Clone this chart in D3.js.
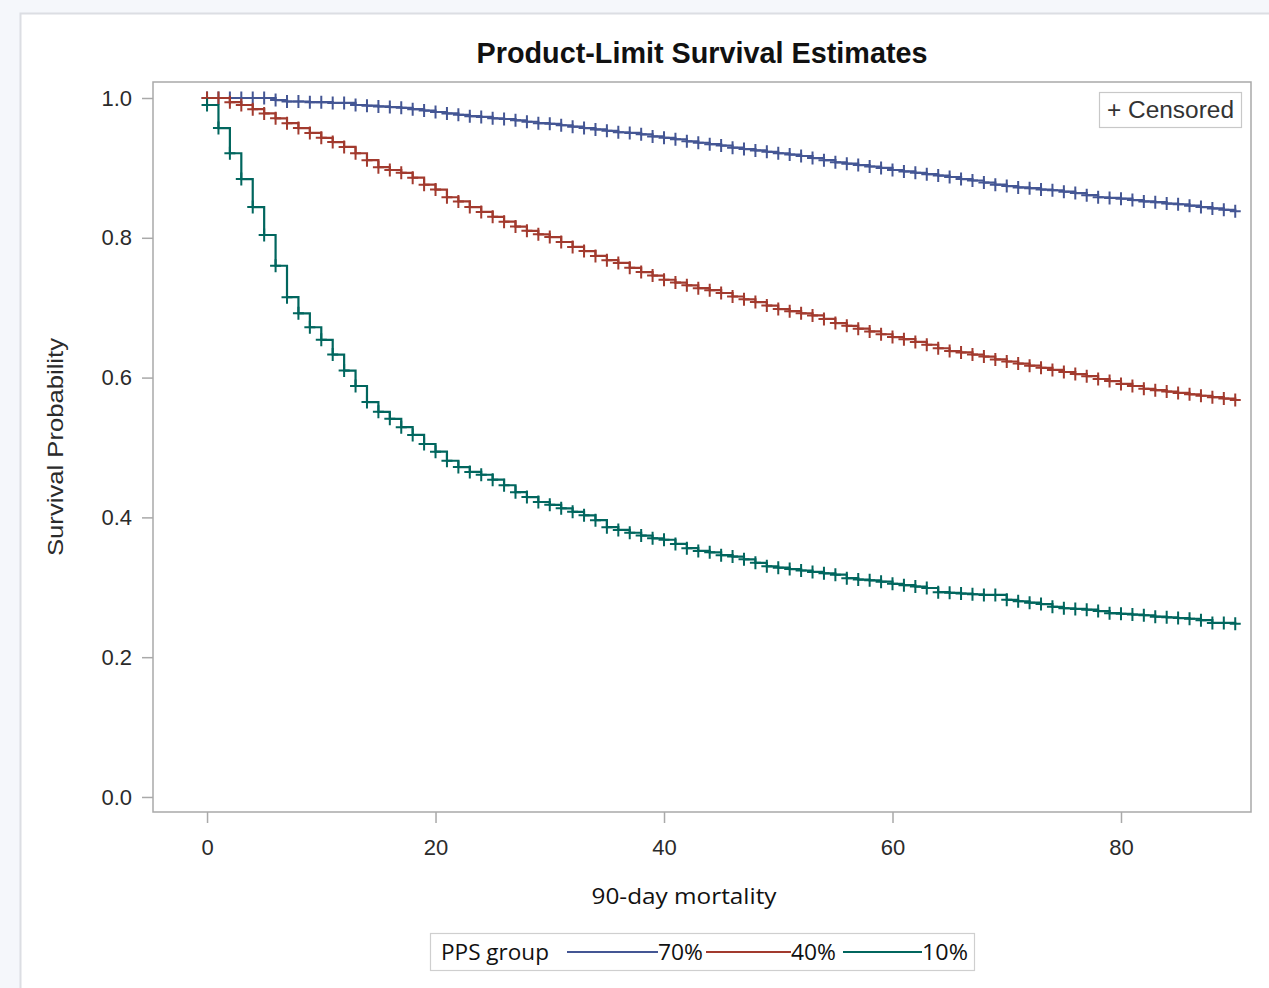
<!DOCTYPE html>
<html>
<head>
<meta charset="utf-8">
<script src="https://cdn.jsdelivr.net/npm/d3@7"></script>
<style>
    html, body { margin: 0; padding: 0; background: #f5f7fb; }
    svg { display: block; }
</style>
</head>
<body>
<svg id="chart" width="1269" height="988"></svg>
<script>
// Follow-up days (one KM estimate and one censor mark per day)
const days = d3.range(0, 91);

// Survival estimates
const pps70 = [
    1.000, 1.000, 1.000, 1.000, 1.000, 1.000, 0.997, 0.995, 0.995, 0.994,
    0.994, 0.993, 0.993, 0.990, 0.989, 0.988, 0.987, 0.986, 0.984, 0.982,
    0.980, 0.978, 0.976, 0.974, 0.973, 0.971, 0.970, 0.968, 0.966, 0.964,
    0.963, 0.961, 0.959, 0.957, 0.955, 0.953, 0.951, 0.950, 0.948, 0.945,
    0.943, 0.941, 0.938, 0.936, 0.934, 0.932, 0.929, 0.927, 0.925, 0.923,
    0.921, 0.919, 0.917, 0.914, 0.911, 0.908, 0.906, 0.904, 0.902, 0.900,
    0.897, 0.895, 0.893, 0.891, 0.889, 0.887, 0.884, 0.882, 0.879, 0.876,
    0.874, 0.872, 0.871, 0.869, 0.868, 0.866, 0.864, 0.861, 0.858, 0.857,
    0.856, 0.854, 0.852, 0.851, 0.849, 0.848, 0.846, 0.844, 0.842, 0.840,
    0.838
];
const pps40 = [
    1.000, 1.000, 0.994, 0.990, 0.984, 0.978, 0.971, 0.964, 0.957, 0.950,
    0.943, 0.937, 0.930, 0.921, 0.911, 0.901, 0.897, 0.893, 0.886, 0.876,
    0.869, 0.858, 0.852, 0.844, 0.837, 0.830, 0.823, 0.816, 0.810, 0.805,
    0.801, 0.794, 0.787, 0.781, 0.774, 0.768, 0.764, 0.757, 0.751, 0.746,
    0.740, 0.736, 0.732, 0.728, 0.725, 0.721, 0.716, 0.712, 0.708, 0.703,
    0.698, 0.695, 0.692, 0.689, 0.684, 0.678, 0.674, 0.670, 0.666, 0.662,
    0.658, 0.655, 0.651, 0.647, 0.642, 0.638, 0.636, 0.633, 0.630, 0.626,
    0.623, 0.620, 0.617, 0.614, 0.611, 0.608, 0.605, 0.602, 0.598, 0.595,
    0.591, 0.588, 0.584, 0.582, 0.580, 0.578, 0.576, 0.574, 0.572, 0.570,
    0.568
];
const pps10 = [
    0.990, 0.957, 0.921, 0.884, 0.844, 0.804, 0.760, 0.715, 0.692, 0.672,
    0.654, 0.633, 0.610, 0.588, 0.565, 0.551, 0.541, 0.529, 0.518, 0.505,
    0.494, 0.481, 0.472, 0.465, 0.461, 0.454, 0.446, 0.436, 0.429, 0.422,
    0.418, 0.413, 0.408, 0.403, 0.396, 0.386, 0.382, 0.378, 0.374, 0.370,
    0.368, 0.362, 0.356, 0.352, 0.350, 0.346, 0.344, 0.340, 0.335, 0.330,
    0.328, 0.326, 0.324, 0.322, 0.320, 0.318, 0.313, 0.311, 0.310, 0.308,
    0.305, 0.303, 0.301, 0.299, 0.293, 0.292, 0.291, 0.290, 0.289, 0.289,
    0.282, 0.280, 0.278, 0.276, 0.272, 0.270, 0.269, 0.268, 0.266, 0.263,
    0.262, 0.261, 0.260, 0.258, 0.257, 0.256, 0.255, 0.253, 0.249, 0.249,
    0.248
];

const groupNames = ['70%', '40%', '10%'];
const groupColors = ['#445694', '#a23a2e', '#01665e'];
const xTicks = [0, 20, 40, 60, 80];
const yTicks = [0, 0.2, 0.4, 0.6, 0.8, 1.0];

const series = [pps70, pps40, pps10].map((values, i) => ({
    name: groupNames[i],
    color: groupColors[i],
    points: days.map((day, j) => ({ day, s: values[j] })),
}));

const svg = d3.select('#chart');
const sasFont = '"Liberation Sans", Arial, sans-serif';
const officeFont = '"Open Sans", "Noto Sans", sans-serif';

// frame of the pasted figure
svg.append('rect')
    .attr('x', 20.5)
    .attr('y', 13.5)
    .attr('width', 1260)
    .attr('height', 990)
    .attr('fill', '#ffffff')
    .attr('stroke', '#dcdee3')
    .attr('stroke-width', 2);

const plot = { left: 153, right: 1251, top: 82, bottom: 812 };

// 0 sits at 207px and 80 at 1121px, the frame runs a little past both ends
const xScale = d3.scaleLinear().domain([-4.73, 91.38]).range([plot.left, plot.right]);
const yScale = d3.scaleLinear().domain([-0.0215, 1.0229]).range([plot.bottom, plot.top]);

const fit = (sel, length) => sel.attr('textLength', length).attr('lengthAdjust', 'spacingAndGlyphs');

svg.append('text')
    .attr('x', (plot.left + plot.right) / 2)
    .attr('y', 63)
    .attr('text-anchor', 'middle')
    .attr('font-family', sasFont)
    .attr('font-weight', 'bold')
    .attr('font-size', 29)
    .attr('fill', '#111')
    .text('Product-Limit Survival Estimates')
    .call(fit, 451);

// axes
const styleAxis = g => {
    g.select('.domain').remove();
    g.selectAll('.tick line').attr('stroke', '#a9a9a9').attr('stroke-width', 1.5);
    g.selectAll('.tick text')
        .attr('font-family', sasFont)
        .attr('font-size', 22)
        .attr('fill', '#2b2b2b');
};

svg.append('g')
    .attr('transform', `translate(0, ${plot.bottom})`)
    .call(d3.axisBottom(xScale).tickValues(xTicks).tickSize(11).tickPadding(16))
    .call(styleAxis);

svg.append('g')
    .attr('transform', `translate(${plot.left}, 0)`)
    .call(d3.axisLeft(yScale).tickValues(yTicks).tickFormat(d3.format('.1f')).tickSize(11).tickPadding(10))
    .call(styleAxis);

svg.append('rect')
    .attr('x', plot.left)
    .attr('y', plot.top)
    .attr('width', plot.right - plot.left)
    .attr('height', plot.bottom - plot.top)
    .attr('fill', 'none')
    .attr('stroke', '#a9a9a9')
    .attr('stroke-width', 1.5);

svg.append('text')
    .attr('transform', `translate(63, ${(plot.top + plot.bottom) / 2}) rotate(-90)`)
    .attr('text-anchor', 'middle')
    .attr('font-family', sasFont)
    .attr('font-size', 22)
    .attr('fill', '#2b2b2b')
    .text('Survival Probability')
    .call(fit, 218);

svg.append('text')
    .attr('x', 684)
    .attr('y', 904)
    .attr('text-anchor', 'middle')
    .attr('font-family', officeFont)
    .attr('font-size', 21)
    .attr('fill', '#111')
    .text('90-day mortality')
    .call(fit, 185);

// survival curves
const stepLine = d3.line()
    .curve(d3.curveStepAfter)
    .x(d => xScale(d.day))
    .y(d => yScale(d.s));

const curves = svg.selectAll('.km-curve')
    .data(series)
    .enter()
    .append('g')
    .classed('km-curve', true)
    .attr('stroke', d => d.color);

curves
    .append('path')
    .attr('d', d => stepLine(d.points))
    .attr('fill', 'none')
    .attr('stroke-width', 2.2);

curves
    .selectAll('.censor')
    .data(d => d.points)
    .enter()
    .append('path')
    .classed('censor', true)
    .attr('transform', d => `translate(${xScale(d.day)}, ${yScale(d.s)})`)
    .attr('d', 'M-5.5,0H5.5M0,-6.5V6.5')
    .attr('fill', 'none')
    .attr('stroke-width', 2);

// "+ Censored" inset legend
svg.append('rect')
    .attr('x', 1099.5)
    .attr('y', 92.5)
    .attr('width', 142)
    .attr('height', 35)
    .attr('fill', '#fff')
    .attr('stroke', '#c8c8c8')
    .attr('stroke-width', 1.2);

svg.append('text')
    .attr('x', 1107)
    .attr('y', 118)
    .attr('font-family', sasFont)
    .attr('font-size', 23)
    .attr('fill', '#333')
    .text('+ Censored')
    .call(fit, 127);

// group legend under the plot
const legend = svg.append('g');

legend.append('rect')
    .attr('x', 430.5)
    .attr('y', 933.5)
    .attr('width', 544)
    .attr('height', 37)
    .attr('fill', '#fff')
    .attr('stroke', '#cfcfcf')
    .attr('stroke-width', 1.2);

legend.append('text')
    .attr('x', 441)
    .attr('y', 960)
    .attr('font-family', officeFont)
    .attr('font-size', 21)
    .attr('fill', '#111')
    .text('PPS group')
    .call(fit, 108);

const entryScale = d3.scaleOrdinal().domain(groupNames).range([567, 706, 843]);
const lineLengths = [91, 85, 79];
const labelWidths = [45, 45, 46];

const entries = legend.selectAll('.entry')
    .data(series)
    .enter()
    .append('g')
    .classed('entry', true)
    .attr('transform', d => `translate(${entryScale(d.name)}, 0)`);

entries
    .append('line')
    .attr('x1', 0)
    .attr('x2', (_, i) => lineLengths[i])
    .attr('y1', 952)
    .attr('y2', 952)
    .attr('stroke', d => d.color)
    .attr('stroke-width', 2);

entries
    .append('text')
    .attr('x', (_, i) => lineLengths[i])
    .attr('y', 960)
    .attr('font-family', officeFont)
    .attr('font-size', 21)
    .attr('fill', '#111')
    .text(d => d.name)
    .each(function(_, i) {
        d3.select(this).call(fit, labelWidths[i]);
    });
</script>
</body>
</html>
